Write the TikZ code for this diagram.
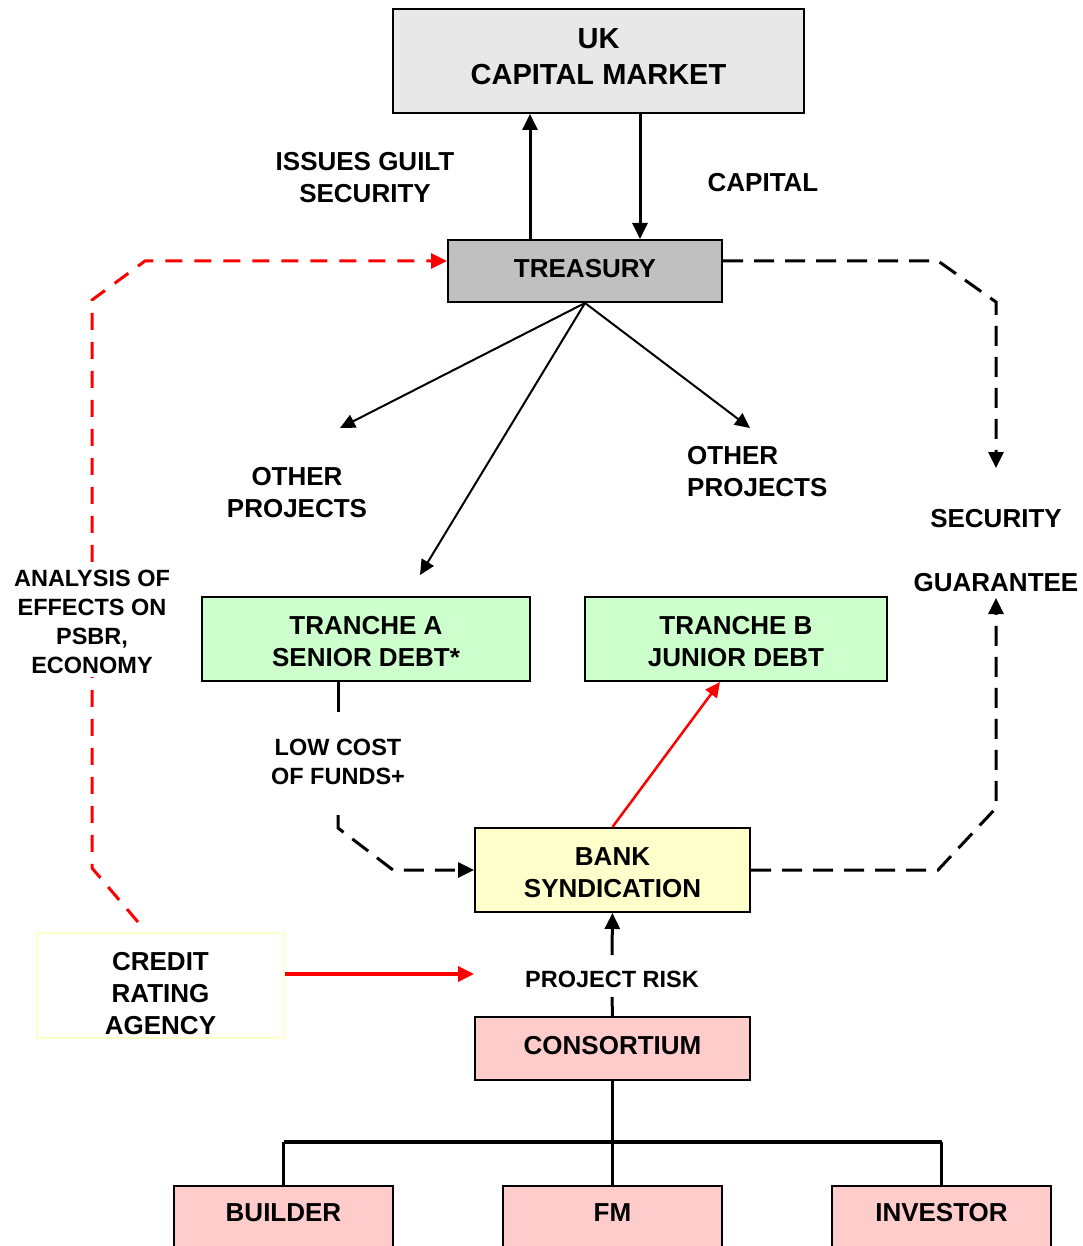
\documentclass[tikz,border=0pt]{standalone}
\usepackage{fontspec}
\setmainfont{Liberation Sans}
\usetikzlibrary{arrows.meta}
\definecolor{ukgray}{HTML}{E8E8E8}
\definecolor{trgray}{HTML}{C0C0C0}
\definecolor{trgreen}{HTML}{CCFFCC}
\definecolor{bankyel}{HTML}{FFFFCC}
\definecolor{conspink}{HTML}{FFCCCC}
\definecolor{credyel}{HTML}{FFFFCC}
\definecolor{myred}{HTML}{FF0000}
\begin{document}
\begin{tikzpicture}[x=1pt,y=-1pt,
  box/.style={draw=black,line width=2pt,inner sep=0pt},
  lbl/.style={align=center,font=\bfseries\fontsize{26}{32}\selectfont,inner sep=1pt},
  slbl/.style={align=center,font=\bfseries\fontsize{23.5}{28.8}\selectfont,inner sep=1pt},
  tip/.style={-{Triangle[length=16pt,width=15pt]}},
  arr/.style={line width=3pt,tip},
  tarr/.style={line width=2pt,-{Triangle[length=15pt,width=14pt]}},
  blkdash/.style={line width=3pt,dash pattern=on 20pt off 11pt,tip},
  reddash/.style={line width=3pt,color=myred,dash pattern=on 17pt off 12pt,tip},
  redarr/.style={line width=3.5pt,color=myred,tip},
  redthin/.style={line width=2.5pt,color=myred,-{Triangle[length=15pt,width=14pt]}},
  tree/.style={line width=3pt}
]
\useasboundingbox (0,0) rectangle (1082,1246);
\fill[white] (0,0) rectangle (1082,1246);
\clip (0,0) rectangle (1082,1246);

% helper coordinates
\coordinate (xa) at (530,0);
\coordinate (xb) at (640,0);
\coordinate (y261) at (0,261);
\coordinate (y974) at (0,974);
\coordinate (y1142) at (0,1142);
\coordinate (x720) at (720,0);
\coordinate (x338) at (338,0);

% boxes
\node[box,fill=ukgray,minimum width=411pt,minimum height=104pt] (uk) at (598.5,61) {};
\node[lbl,font=\bfseries\fontsize{29}{36}\selectfont] (ukt) at ([yshift=4pt]uk.center) {UK\\CAPITAL MARKET};
\node[box,fill=trgray,minimum width=274pt,minimum height=62pt] (tr) at (585,271) {};
\node[lbl] (trt) at ([yshift=2pt]tr.center) {TREASURY};
\node[box,fill=trgreen,minimum width=328pt,minimum height=84pt] (ta) at (366,639) {};
\node[lbl] (tat) at ([yshift=-3pt]ta.center) {TRANCHE A\\SENIOR DEBT*};
\node[box,fill=trgreen,minimum width=302pt,minimum height=84pt] (tb) at (736,639) {};
\node[lbl] (tbt) at ([yshift=-3pt]tb.center) {TRANCHE B\\JUNIOR DEBT};
\node[box,fill=bankyel,minimum width=275pt,minimum height=84pt] (bank) at (612.5,870) {};
\node[lbl] (bankt) at ([yshift=-3pt]bank.center) {BANK\\SYNDICATION};
\node[box,fill=conspink,minimum width=275pt,minimum height=63pt] (cons) at (612.5,1048.5) {};
\node[lbl] (const) at ([yshift=3pt]cons.center) {CONSORTIUM};
\node[box,draw=credyel,line width=1.5pt,fill=white,minimum width=247pt,minimum height=105pt] (cr) at (160.5,985.5) {};
\node[lbl] (crt) at ([yshift=-8pt]cr.center) {CREDIT\\RATING\\AGENCY};

\node[box,fill=conspink,minimum width=219pt,minimum height=100pt,anchor=north] (builder) at (283.5,1185) {};
\node[box,fill=conspink,minimum width=219pt,minimum height=100pt,anchor=north] (fm) at (612.5,1185) {};
\node[box,fill=conspink,minimum width=219pt,minimum height=100pt,anchor=north] (inv) at (941.5,1185) {};
\node[lbl] (buildert) at ([yshift=-28pt]builder.north) {BUILDER};
\node[lbl] (fmt) at ([yshift=-28pt]fm.north) {FM};
\node[lbl] (invt) at ([yshift=-28pt]inv.north) {INVESTOR};

% labels
\node[lbl] (issues) at (365,178) {ISSUES GUILT\\SECURITY};
\node[lbl] (capital) at (763,183) {CAPITAL};
\node[lbl] (op1) at (297,493) {OTHER\\PROJECTS};
\node[lbl,align=left,anchor=west] (op2) at (686,472) {OTHER\\PROJECTS};
\node[lbl] (sec) at (996,519) {SECURITY};
\node[lbl] (guar) at (996,583) {GUARANTEE};
\node[slbl] (lowcost) at (338,762) {LOW COST\\OF FUNDS+};
\node[slbl] (prisk) at (612,979) {PROJECT RISK};

% free-end coordinates
\coordinate (op1a) at (340,428);
\coordinate (taa) at (420,575);
\coordinate (op2a) at (750,428);
\coordinate (r0) at (138,922);
\coordinate (s0) at (996,468);
\coordinate (g0) at (996,598);
\coordinate (lc1) at (338,712);
\coordinate (lc2) at (338,815);
\coordinate (pr1) at (612,955);
\coordinate (pr2) at (612,997);

% connectors top
\draw[arr] (tr.north -| xa) -- (uk.south -| xa);
\draw[arr] (uk.south -| xb) -- (tr.north -| xb);
\draw[tarr] (tr.south) -- (op1a);
\draw[tarr] (tr.south) -- (taa);
\draw[tarr] (tr.south) -- (op2a);

% red dashed analysis loop
\draw[reddash] (r0) -- (92,868) -- (92,300) -- (145,261) -- (tr.west |- y261);
\node[slbl,fill=white,inner sep=3pt] (anal) at (92,622) {ANALYSIS OF\\EFFECTS ON\\PSBR,\\ECONOMY};

% security / guarantee
\draw[blkdash] (tr.east |- y261) -- (938,261) -- (996,302) -- (s0);
\draw[blkdash] (bank.east) -- (938,870) -- (996,808) -- (g0);

% low cost of funds
\draw[line width=3pt] (ta.south -| x338) -- (lc1);
\draw[blkdash] (lc2) -- (338,828) -- (393,870) -- (bank.west);

% bank to tranche B
\draw[redthin] (bank.north) -- (tb.south -| x720);

% project risk
\draw[arr] (pr1) -- (bank.south);
\draw[line width=3pt] (cons.north) -- (pr2);

% credit rating
\draw[redarr] (cr.east |- y974) -- (bank.west |- y974);

% tree
\draw[tree] (cons.south) -- (fm.north);
\draw[line width=4pt] (builder.north |- y1142) -- (inv.north |- y1142);
\draw[tree] (builder.north |- y1142) -- (builder.north);
\draw[tree] (inv.north |- y1142) -- (inv.north);
\end{tikzpicture}
\end{document}
